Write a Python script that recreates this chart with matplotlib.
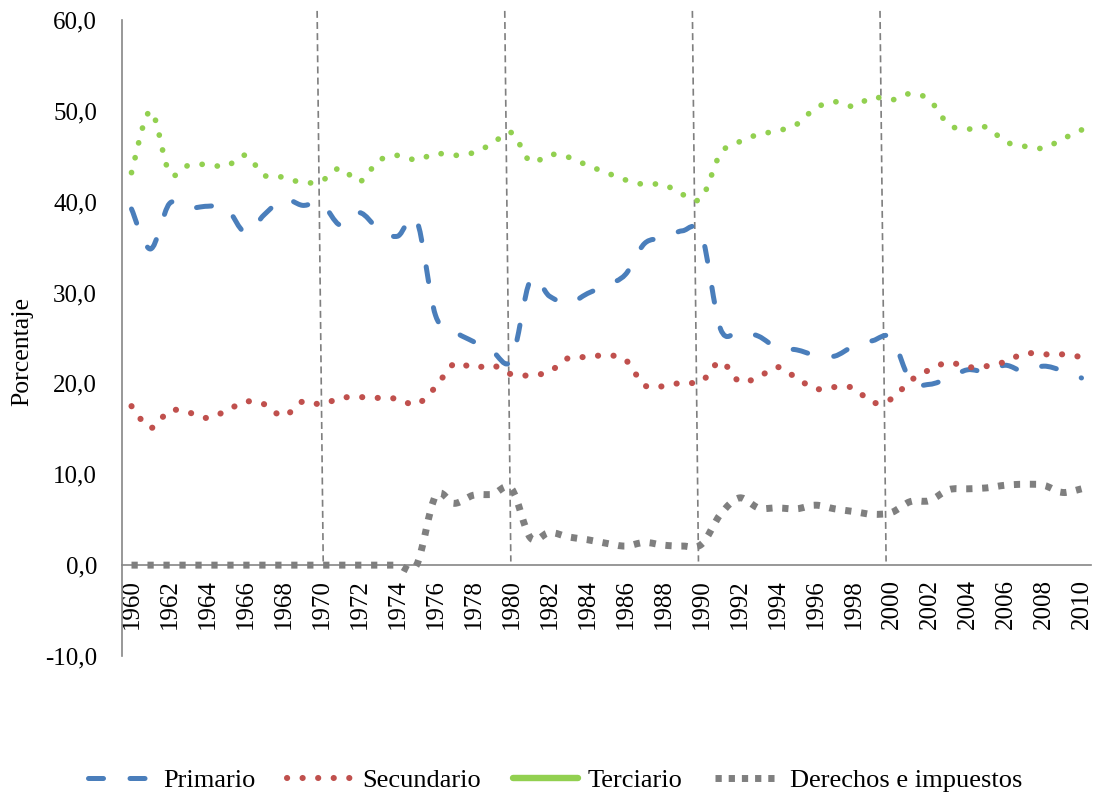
import numpy as np
import matplotlib.pyplot as plt
from matplotlib.path import Path
from matplotlib.patches import PathPatch
from matplotlib.lines import Line2D

plt.rcParams['font.family'] = ['Liberation Serif', 'DejaVu Serif']
plt.rcParams['lines.scale_dashes'] = False

# Datos (porcentaje del PIB por sector), 1960-2010
years = list(range(1960, 2011))

primario = [39.2, 34.8, 39.8, 39.3, 39.5, 39.3, 36.6, 38.6, 40.3, 39.6,   # 1960-69
            39.8, 37.4, 38.8, 37.0, 36.2, 38.0, 27.5, 25.7, 24.6, 23.5,   # 1970-79
            22.6, 31.4, 29.6, 28.8, 29.9, 30.8, 32.0, 35.4, 36.0, 36.8,   # 1980-89
            36.4, 26.0, 25.7, 25.2, 23.9, 23.7, 23.1, 23.0, 24.1, 24.7,   # 1990-99
            25.0, 20.3, 19.9, 20.6, 21.5, 21.3, 22.0, 21.3, 21.9, 21.4,   # 2000-09
            20.6]
secundario = [17.5, 15.1, 17.0, 16.8, 16.2, 17.0, 18.0, 17.7, 16.4, 18.0,
              17.7, 18.4, 18.5, 18.4, 18.3, 17.7, 19.6, 22.2, 21.7, 22.0,
              21.0, 20.9, 21.3, 22.8, 22.9, 23.1, 22.6, 19.8, 19.7, 20.1,
              20.2, 22.4, 20.2, 20.7, 21.8, 20.6, 19.4, 19.6, 19.5, 17.9,
              18.3, 20.3, 21.5, 22.3, 21.8, 21.9, 22.4, 23.3, 23.2, 23.2,
              22.9]
terciario = [43.2, 50.0, 43.2, 44.0, 44.1, 43.9, 45.1, 42.9, 42.7, 42.1,
             42.3, 43.7, 42.2, 44.5, 45.1, 44.6, 45.3, 45.1, 45.4, 46.4,
             47.6, 44.4, 45.2, 44.9, 44.0, 43.2, 42.4, 41.9, 41.9, 40.8,
             40.4, 45.3, 46.6, 47.4, 47.8, 48.5, 50.3, 51.0, 50.5, 51.5,
             51.2, 51.9, 51.2, 48.5, 48.0, 48.2, 46.6, 46.1, 45.9, 46.9,
             47.9]
derechos = [0.0, 0.0, 0.0, 0.0, 0.0, 0.0, 0.0, 0.0, 0.0, 0.0,
            0.0, 0.0, 0.0, 0.0, 0.0, 0.0, 7.6, 6.8, 7.7, 7.8,
            8.4, 3.0, 3.6, 3.1, 2.8, 2.4, 2.1, 2.5, 2.2, 2.1,
            2.3, 5.6, 7.4, 6.3, 6.3, 6.2, 6.6, 6.2, 5.9, 5.6,
            5.8, 7.0, 7.1, 8.3, 8.4, 8.5, 8.8, 8.9, 8.8, 8.0,
            8.4]

cortes = [1970, 1980, 1990, 2000]

azul = '#4A7EBB'
rojo = '#C0504D'
verde = '#92D050'
gris = '#7F7F7F'


def curva(x, y):
    # linea suavizada como en Excel (Catmull-Rom -> Bezier)
    p = np.column_stack([x, y]).astype(float)
    n = len(p)
    verts = [p[0]]
    codes = [Path.MOVETO]
    for i in range(n - 1):
        p0 = p[i - 1] if i > 0 else p[i]
        p1 = p[i]
        p2 = p[i + 1]
        p3 = p[i + 2] if i + 2 < n else p[i + 1]
        verts += [p1 + (p2 - p0) / 6, p2 - (p3 - p1) / 6, p2]
        codes += [Path.CURVE4] * 3
    return Path(verts, codes)


fig = plt.figure(figsize=(10.99, 7.98), dpi=100)
ax = fig.add_axes([122 / 1099, 142 / 798, 969 / 1099, 636 / 798])

ax.set_xlim(1959.5, 2010.5)
ax.set_ylim(-10, 60)

# lineas verticales de las decadas
for c in cortes:
    xb = c + 0.09 - 0.0125 * (c - 1970)
    ax.plot([xb - 0.32, xb], [61.0, 0.4], color=gris, lw=1.2,
            linestyle=(0, (5, 3)), clip_on=False, zorder=1)

series = [
    (primario, azul, 3.6, (0, (10.8, 19.1)), 'round'),
    (secundario, rojo, 4.4, (0, (0.1, 11.1)), 'round'),
    (terciario, verde, 4.1, (0, (0.1, 10.9)), 'round'),
    (derechos, gris, 5.0, (0, (4.5, 7.0)), 'butt'),
]
for vals, col, lw, ls, cap in series:
    ax.add_patch(PathPatch(curva(years, vals), fill=False, edgecolor=col,
                           lw=lw, linestyle=ls, capstyle=cap,
                           joinstyle='round', clip_on=False, zorder=3))

for s in ['top', 'right']:
    ax.spines[s].set_visible(False)
ax.spines['left'].set_color('#868686')
ax.spines['left'].set_linewidth(1.2)
ax.spines['bottom'].set_color('#868686')
ax.spines['bottom'].set_linewidth(1.2)
ax.spines['bottom'].set_position(('data', 0))

yt = list(range(-10, 61, 10))
ax.set_yticks(yt)
ax.set_yticklabels([f'{v:.1f}'.replace('.', ',') for v in yt])
ax.set_xticks(years[::2])
ax.set_xticklabels([str(y) for y in years[::2]], rotation=90)
ax.tick_params(axis='y', length=0, pad=18, labelsize=18)
ax.tick_params(axis='x', length=0, pad=10, labelsize=18)

fig.text(22 / 1099, 1 - 352 / 798, 'Porcentaje', rotation=90,
         ha='center', va='center', fontsize=18.5)

handles = [
    Line2D([], [], color=azul, lw=3.6, linestyle=(0, (10.8, 19.1)),
           dash_capstyle='round'),
    Line2D([], [], color=rojo, lw=4.4, linestyle=(0, (0.1, 11.1)),
           dash_capstyle='round'),
    Line2D([], [], color=verde, lw=4.6, solid_capstyle='round'),
    Line2D([], [], color=gris, lw=5.0, linestyle=(0, (4.5, 5.0))),
]
labels = ['Primario', 'Secundario', 'Terciario', 'Derechos e impuestos']
fig.legend(handles, labels, loc='center', bbox_to_anchor=(0.505, 0.022),
           ncol=4, frameon=False, fontsize=19, handlelength=2.46,
           handletextpad=0.38, columnspacing=1.21)

fig.savefig('out.png', dpi=100)
